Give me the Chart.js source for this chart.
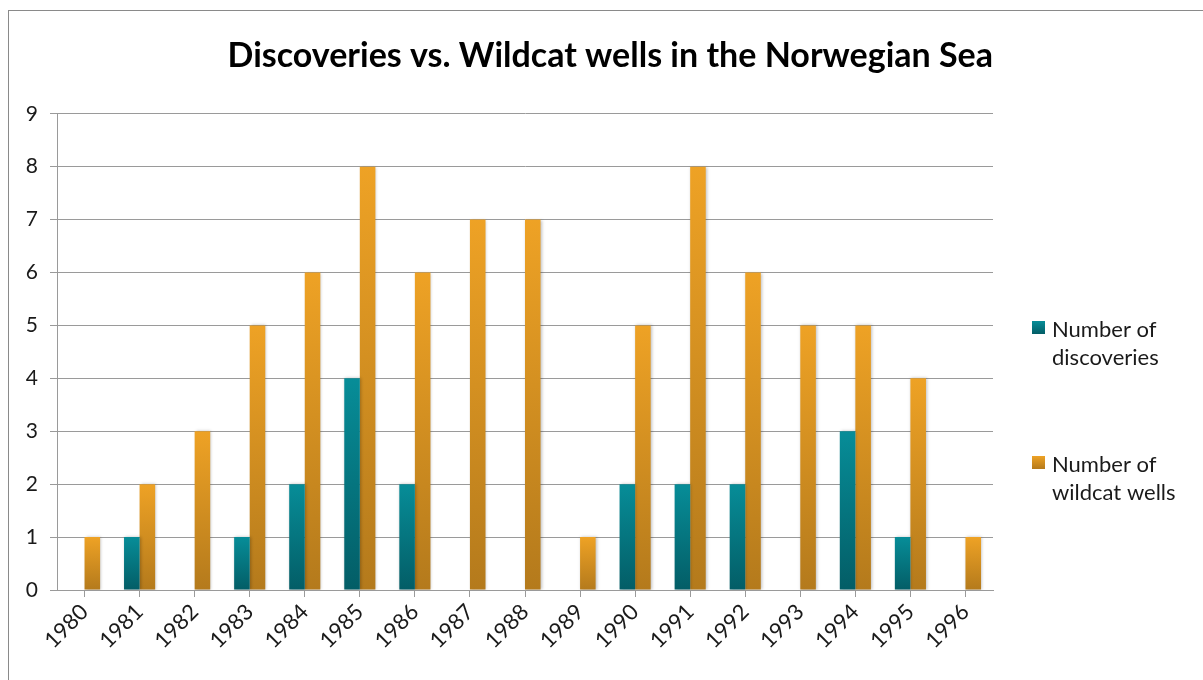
<!DOCTYPE html>
<html>
<head>
<meta charset="utf-8">
<script src="https://cdn.jsdelivr.net/npm/chart.js@4/dist/chart.umd.min.js"></script>
<style>
  html, body { margin: 0; padding: 0; background: #fff; overflow: hidden; }
  #frame { position: absolute; left: 8px; top: 10px; width: 1300px; height: 800px; border: 1px solid #8a8a8a; }
  #wrap { position: absolute; left: 0; top: 0; width: 1203px; height: 680px; }
</style>
</head>
<body>
<div id="frame"></div>
<div id="wrap"><canvas id="chart" width="1203" height="680"></canvas></div>
<script>
// Years on the x axis
const years = ["1980", "1981", "1982", "1983", "1984", "1985", "1986", "1987", "1988",
               "1989", "1990", "1991", "1992", "1993", "1994", "1995", "1996"];
// Series values
const discoveries = [0, 1, 0, 1, 2, 4, 2, 0, 0, 0, 2, 2, 2, 0, 3, 1, 0];
const wildcatWells = [1, 2, 3, 5, 6, 8, 6, 7, 7, 1, 5, 8, 6, 5, 5, 4, 1];
// Legend text, one entry per line
const legendLines = [["Number of", "discoveries"], ["Number of", "wildcat wells"]];
const yTicks = [0, 1, 2, 3, 4, 5, 6, 7, 8, 9];

const FONT = "Lato, 'Open Sans', sans-serif";
const GRID = "#9a9a9a";
const teal = ["#078d98", "#035d66"];
const orange = ["#eea225", "#b47a1c"];

// vertical gradient from the top of each bar down to the base
function barGradient(colors) {
    return function (c) {
        const chart = c.chart;
        if (!chart.chartArea || c.raw == null || !chart.scales.y) return colors[0];
        const y = chart.scales.y;
        const y0 = y.getPixelForValue(c.raw);
        const y1 = y.getPixelForValue(0);
        if (y1 - y0 < 1) return colors[0];
        const g = chart.ctx.createLinearGradient(0, y0, 0, y1);
        g.addColorStop(0, colors[0]);
        g.addColorStop(1, colors[1]);
        return g;
    };
}

// soft shadow behind the bars
const barShadow = {
    id: 'barShadow',
    beforeDatasetsDraw(chart) {
        const ctx = chart.ctx;
        ctx.save();
        ctx.shadowColor = 'rgba(0,0,0,0.25)';
        ctx.shadowBlur = 3;
        ctx.shadowOffsetX = 1;
        ctx.shadowOffsetY = 0;
    },
    afterDatasetsDraw(chart) {
        chart.ctx.restore();
    }
};

// two-line legend on the right
const sideLegend = {
    id: 'sideLegend',
    afterDraw(chart) {
        const ctx = chart.ctx;
        const rows = [321, 456];
        ctx.save();
        chart.data.datasets.forEach((ds, i) => {
            const top = rows[i];
            const cols = i === 0 ? teal : orange;
            const g = ctx.createLinearGradient(0, top, 0, top + 13);
            g.addColorStop(0, cols[0]);
            g.addColorStop(1, cols[1]);
            ctx.fillStyle = g;
            ctx.fillRect(1032, top, 13, 13);
            ctx.fillStyle = '#1a1a1a';
            ctx.font = "22px " + FONT;
            ctx.textBaseline = 'middle';
            ctx.textAlign = 'left';
            legendLines[i].forEach((line, k) => {
                ctx.fillText(line, 1052, top + 9 + k * 28);
            });
        });
        ctx.restore();
    }
};

const chart = new Chart(document.getElementById('chart'), {
    type: 'bar',
    data: {
        labels: years,
        datasets: [
            { label: "Number of discoveries", data: discoveries, backgroundColor: barGradient(teal) },
            { label: "Number of wildcat wells", data: wildcatWells, backgroundColor: barGradient(orange) }
        ]
    },
    options: {
        responsive: false,
        animation: false,
        events: [],
        datasets: { bar: { barPercentage: 1, categoryPercentage: 0.565, borderWidth: 0 } },
        layout: { padding: { top: 0, left: 0, right: 210, bottom: 0 } },
        plugins: {
            legend: { display: false },
            tooltip: { enabled: false },
            title: {
                display: true,
                text: "Discoveries vs. Wildcat wells in the Norwegian Sea",
                color: '#000',
                align: 'end',
                font: { family: FONT, size: 34, weight: 'bold', lineHeight: 1.2 },
                padding: { top: 36, bottom: 37 }
            }
        },
        scales: {
            x: {
                grid: { display: true, drawOnChartArea: false, drawTicks: true, tickLength: 7, offset: false, color: GRID },
                border: { display: true, color: GRID, width: 1 },
                ticks: {
                    autoSkip: false, minRotation: 45, maxRotation: 45, padding: 2,
                    color: '#1a1a1a', font: { family: FONT, size: 22 }
                },
                afterFit(s) { s.height = 90; }
            },
            y: {
                min: 0, max: 9,
                afterBuildTicks(s) { s.ticks = yTicks.map(v => ({ value: v })); },
                grid: { color: GRID, lineWidth: 1, drawTicks: true, tickLength: 7 },
                border: { display: true, color: GRID, width: 1 },
                ticks: { padding: 12, color: '#1a1a1a', font: { family: FONT, size: 21 } },
                afterFit(s) { s.width = 57; }
            }
        }
    },
    plugins: [barShadow, sideLegend]
});
</script>
</body>
</html>
